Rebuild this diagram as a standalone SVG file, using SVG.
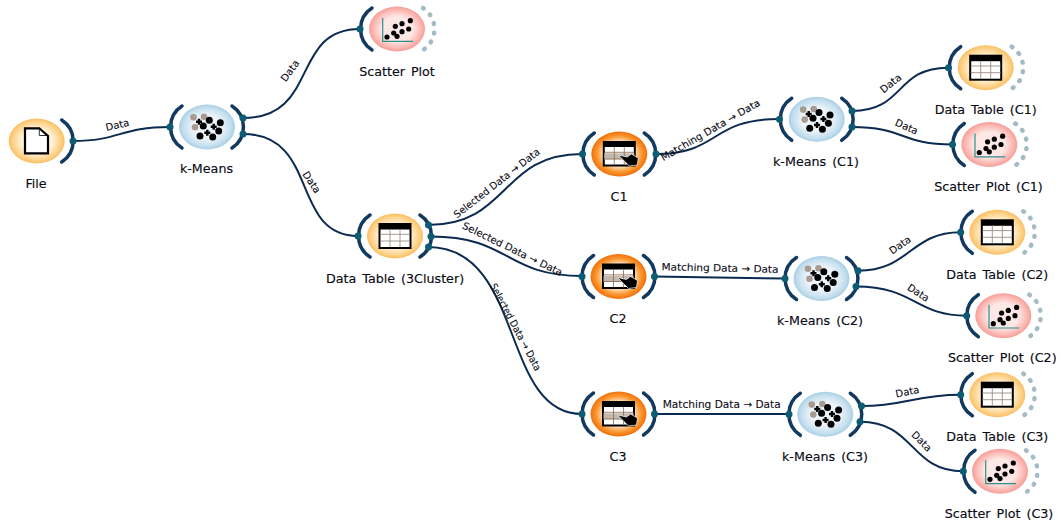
<svg xmlns="http://www.w3.org/2000/svg" xmlns:xlink="http://www.w3.org/1999/xlink" width="1061" height="524" viewBox="0 0 1061 524">
<style>
text{font-family:"DejaVu Sans",Verdana,sans-serif;fill:#0a0a14}
.lbl{font-size:12.700px;text-anchor:middle;word-spacing:2px;stroke:#0a0a14;stroke-width:0.150}
.el{font-size:10px;text-anchor:middle;stroke:#0a0a14;stroke-width:0.100}
.edge{fill:none;stroke:#0b2a4f;stroke-width:2}
.arc{fill:none;stroke:#12395f;stroke-width:3.500;stroke-linecap:round}
.dash{fill:none;stroke:#a3bbc5;stroke-width:4.500;stroke-linecap:round;stroke-dasharray:0.800 8.700}
.dot{fill:#0c5d73}
.ink{fill:#000}
</style>
<defs>
<radialGradient id="gO"><stop offset="0.55" stop-color="#fff2d6"/><stop offset="0.85" stop-color="#fdd28a"/><stop offset="1" stop-color="#fbbf62"/></radialGradient>
<radialGradient id="gR"><stop offset="0.55" stop-color="#fde8e6"/><stop offset="0.85" stop-color="#fbb8b2"/><stop offset="1" stop-color="#f79d98"/></radialGradient>
<radialGradient id="gB"><stop offset="0.5" stop-color="#eef5fa"/><stop offset="0.85" stop-color="#c4dfee"/><stop offset="1" stop-color="#a9cfe4"/></radialGradient>
<radialGradient id="gD"><stop offset="0.55" stop-color="#fde0c0"/><stop offset="0.8" stop-color="#f9972f"/><stop offset="1" stop-color="#f26f0c"/></radialGradient>
<path id="la" class="arc" d="M-25-21A25 25 0 0 0-25 21"/>
<path id="ra" class="arc" d="M25-21A25 25 0 0 1 25 21"/>
<path id="da" class="dash" d="M26-21A25 25 0 0 1 26 21"/>
<g id="icon-table">
<rect x="-15.500" y="-12" width="31" height="24" fill="#fff" stroke="#000" stroke-width="2"/>
<rect x="-15.500" y="-12" width="31" height="5.500" fill="#000"/>
<path d="M-5-7V11M5-7V11M-15-1.700H15M-15 5H15" fill="none" stroke="#8a8078" stroke-width="0.800"/>
</g>
<g id="icon-sel">
<rect x="-15.500" y="-12" width="31" height="23.500" fill="#fff" stroke="#000" stroke-width="2"/>
<rect x="-15.500" y="-12" width="31" height="5" fill="#000"/>
<rect x="-15" y="-0.700" width="30" height="6" fill="#c3b8ae"/>
<path d="M-5-7V11M5-7V11M-15-1.700H15M-15 5H15" fill="none" stroke="#8a6a50" stroke-width="0.800"/>
<path d="M-1 1L8 3L12 0L19 4L18 11L10 12L6 8Z" fill="#000" stroke="#fff" stroke-width="0.700"/>
</g>
<g id="icon-km" class="ink">
<circle cx="-13.500" cy="-9.700" r="3.300" fill="#a89c92"/><circle cx="-3" cy="-10.300" r="3.300" fill="#a89c92"/><circle cx="-12" cy="0.300" r="3.300" fill="#a89c92"/>
<circle cx="2.300" cy="-6.700" r="3.500"/><circle cx="13.300" cy="-4.300" r="3.500"/><circle cx="-3.700" cy="-1" r="3.500"/><circle cx="11.700" cy="4" r="3.500"/><circle cx="-7" cy="9" r="3.500"/><circle cx="5.700" cy="10" r="3.500"/>
<path d="M-11-5.300h6M-8-8.300v6M3.700-0.300h6M6.700-3.300v6M-2.700 5.700h6M0.300 2.700v6" stroke="#000" stroke-width="2.400" fill="none"/>
</g>
<g id="icon-sp">
<path d="M-14.300-11V12.300H16" fill="none" stroke="#2f8f8f" stroke-width="1.200"/>
<g class="ink"><circle cx="-10" cy="8" r="2.600"/><circle cx="-3.300" cy="4" r="2.600"/><circle cx="0" cy="7.300" r="2.600"/><circle cx="-1.700" cy="-2.700" r="2.600"/><circle cx="5" cy="2.700" r="2.600"/><circle cx="5" cy="-5.300" r="2.600"/><circle cx="11.700" cy="0" r="2.600"/><circle cx="13.300" cy="-8.300" r="2.600"/></g>
</g>
<g id="file"><path d="M-11.700-12.700H2.600L11.300-5V12.300H-11.700Z" fill="#fff" stroke="#000" stroke-width="2.200"/><path d="M2.600-12.700V-5.500H11.300" fill="none" stroke="#000" stroke-width="0.800"/></g>
</defs>

<g id="connectors">
<path class="edge" d="M73 141C120 141 120 127 170 127"/>
<path class="edge" d="M243 118C320 118 290 29 360 29"/>
<path class="edge" d="M243 134C320 134 290 236 358 236"/>
<path class="edge" d="M428 225C510 225 500 154 582 154"/>
<path class="edge" d="M431 236.500C510 236.500 505 276 582 276"/>
<path class="edge" d="M428 247C525 247 500 414 582 414"/>
<path class="edge" d="M656 154C720 154 710 119 779 119"/>
<path class="edge" d="M654 276.500L785 278.500"/>
<path class="edge" d="M654 414H789"/>
<path class="edge" d="M852 111C905 111 895 67.700 948 67.700"/>
<path class="edge" d="M852 127C905 127 900 144.500 952.500 144.500"/>
<path class="edge" d="M858 270.700C910 270.700 910 232.300 960.500 232.300"/>
<path class="edge" d="M856 286.500C915 286.500 915 315.700 966.500 315.700"/>
<path class="edge" d="M861.500 406C905 406 915 394.700 960.500 394.700"/>
<path class="edge" d="M860 421.700C915 421.700 910 471.300 963 471.300"/>
<g id="edge-labels">
<text class="el" dy="3.500" transform="translate(117.300 125) rotate(-13)">Data</text>
<text class="el" dy="3.500" transform="translate(290 70.700) rotate(-54)">Data</text>
<text class="el" dy="3.500" transform="translate(311.700 182.300) rotate(56)">Data</text>
<text class="el" dy="3.500" textLength="106" lengthAdjust="spacingAndGlyphs" transform="translate(496.700 183) rotate(-38)">Selected Data → Data</text>
<text class="el" dy="3.500" textLength="110" lengthAdjust="spacingAndGlyphs" transform="translate(512.500 249) rotate(26)">Selected Data → Data</text>
<text class="el" dy="3.500" textLength="97" lengthAdjust="spacingAndGlyphs" transform="translate(515.700 327) rotate(62)">Selected Data → Data</text>
<text class="el" dy="3.500" textLength="113" lengthAdjust="spacingAndGlyphs" transform="translate(710.300 130) rotate(-30)">Matching Data → Data</text>
<text class="el" dy="3.500" textLength="117" lengthAdjust="spacingAndGlyphs" transform="translate(720 268) rotate(1.300)">Matching Data → Data</text>
<text class="el" dy="3.500" textLength="118" lengthAdjust="spacingAndGlyphs" transform="translate(721.700 404.700)">Matching Data → Data</text>
<text class="el" dy="3.500" transform="translate(890.700 83.300) rotate(-38)">Data</text>
<text class="el" dy="3.500" transform="translate(906.700 126.700) rotate(24)">Data</text>
<text class="el" dy="3.500" transform="translate(900 245) rotate(-35)">Data</text>
<text class="el" dy="3.500" transform="translate(918.300 292.700) rotate(33)">Data</text>
<text class="el" dy="3.500" transform="translate(907.300 391.700) rotate(-12)">Data</text>
<text class="el" dy="3.500" transform="translate(921.700 441.300) rotate(45)">Data</text>
</g>
</g>

<g id="node-file"><ellipse cx="36.700" cy="141" rx="28" ry="22.500" fill="url(#gO)"/><use href="#file" x="36.700" y="141"/><use href="#ra" x="36.700" y="141"/><circle class="dot" cx="73" cy="141" r="3.500"/><text class="lbl" x="36" y="187.500">File</text></g>

<g id="node-kmeans"><ellipse cx="207" cy="127" rx="28" ry="22.500" fill="url(#gB)"/><use href="#icon-km" x="207" y="127"/><use href="#la" x="207" y="127"/><use href="#ra" x="207" y="127"/><circle class="dot" cx="170" cy="127" r="3.500"/><circle class="dot" cx="243" cy="118" r="3.500"/><circle class="dot" cx="243" cy="134" r="3.500"/><text class="lbl" x="206.500" y="173">k-Means</text></g>

<g id="node-scatter"><ellipse cx="397" cy="29" rx="28" ry="22.500" fill="url(#gR)"/><use href="#icon-sp" x="397" y="29"/><use href="#la" x="397" y="29"/><use href="#da" x="397" y="29"/><circle class="dot" cx="360" cy="29" r="3.500"/><text class="lbl" x="397" y="75.500">Scatter Plot</text></g>

<g id="node-dt"><ellipse cx="395" cy="236" rx="28" ry="22.500" fill="url(#gO)"/><use href="#icon-table" x="395" y="236"/><use href="#la" x="395" y="236"/><use href="#ra" x="395" y="236"/><circle class="dot" cx="358" cy="236" r="3.500"/><circle class="dot" cx="428.500" cy="225" r="3.500"/><circle class="dot" cx="431" cy="236.500" r="3.500"/><circle class="dot" cx="428.500" cy="247" r="3.500"/><text class="lbl" x="395" y="282.500">Data Table (3Cluster)</text></g>

<g id="node-c1"><ellipse cx="619.300" cy="154" rx="28" ry="22.500" fill="url(#gD)"/><use href="#icon-sel" x="619.300" y="154"/><use href="#la" x="619.300" y="154"/><use href="#ra" x="619.300" y="154"/><circle class="dot" cx="582.500" cy="154" r="3.500"/><circle class="dot" cx="656" cy="154" r="3.500"/><text class="lbl" x="619" y="200.500">C1</text></g>
<g id="node-c2"><ellipse cx="618.500" cy="276.500" rx="28" ry="22.500" fill="url(#gD)"/><use href="#icon-sel" x="618.500" y="276.500"/><use href="#la" x="618.500" y="276.500"/><use href="#ra" x="618.500" y="276.500"/><circle class="dot" cx="582" cy="276.500" r="3.500"/><circle class="dot" cx="654.500" cy="276.500" r="3.500"/><text class="lbl" x="618" y="322.500">C2</text></g>
<g id="node-c3"><ellipse cx="618.500" cy="414" rx="28" ry="22.500" fill="url(#gD)"/><use href="#icon-sel" x="618.500" y="414"/><use href="#la" x="618.500" y="414"/><use href="#ra" x="618.500" y="414"/><circle class="dot" cx="582" cy="414" r="3.500"/><circle class="dot" cx="654.500" cy="414" r="3.500"/><text class="lbl" x="618" y="460.500">C3</text></g>

<g id="node-km1"><ellipse cx="816.700" cy="119.300" rx="28" ry="22.500" fill="url(#gB)"/><use href="#icon-km" x="816.700" y="119.300"/><use href="#la" x="816.700" y="119.300"/><use href="#ra" x="816.700" y="119.300"/><circle class="dot" cx="779.500" cy="119.300" r="3.500"/><circle class="dot" cx="852" cy="111" r="3.500"/><circle class="dot" cx="852" cy="127" r="3.500"/><text class="lbl" x="816" y="165.500">k-Means (C1)</text></g>
<g id="node-km2"><ellipse cx="821.500" cy="278.500" rx="28" ry="22.500" fill="url(#gB)"/><use href="#icon-km" x="821.500" y="278.500"/><use href="#la" x="821.500" y="278.500"/><use href="#ra" x="821.500" y="278.500"/><circle class="dot" cx="785" cy="278.500" r="3.500"/><circle class="dot" cx="858" cy="270.700" r="3.500"/><circle class="dot" cx="856" cy="286.500" r="3.500"/><text class="lbl" x="820" y="325">k-Means (C2)</text></g>
<g id="node-km3"><ellipse cx="825.300" cy="414.300" rx="28" ry="22.500" fill="url(#gB)"/><use href="#icon-km" x="825.300" y="414.300"/><use href="#la" x="825.300" y="414.300"/><use href="#ra" x="825.300" y="414.300"/><circle class="dot" cx="789" cy="414.300" r="3.500"/><circle class="dot" cx="861.500" cy="406" r="3.500"/><circle class="dot" cx="860" cy="421.700" r="3.500"/><text class="lbl" x="825" y="460.500">k-Means (C3)</text></g>

<g id="node-dt1"><ellipse cx="985.700" cy="67.700" rx="28" ry="22.500" fill="url(#gO)"/><use href="#icon-table" x="985.700" y="67.700"/><use href="#la" x="985.700" y="67.700"/><use href="#da" x="985.700" y="67.700"/><circle class="dot" cx="948.500" cy="67.700" r="3.500"/><text class="lbl" x="985.700" y="114">Data Table (C1)</text></g>
<g id="node-sp1"><ellipse cx="989.300" cy="144.500" rx="28" ry="22.500" fill="url(#gR)"/><use href="#icon-sp" x="989.300" y="144.500"/><use href="#la" x="989.300" y="144.500"/><use href="#da" x="989.300" y="144.500"/><circle class="dot" cx="952.500" cy="144.500" r="3.500"/><text class="lbl" x="988.500" y="191">Scatter Plot (C1)</text></g>
<g id="node-dt2"><ellipse cx="997.300" cy="232.300" rx="28" ry="22.500" fill="url(#gO)"/><use href="#icon-table" x="997.300" y="232.300"/><use href="#la" x="997.300" y="232.300"/><use href="#da" x="997.300" y="232.300"/><circle class="dot" cx="960.700" cy="232.300" r="3.500"/><text class="lbl" x="997.300" y="278.500">Data Table (C2)</text></g>
<g id="node-sp2"><ellipse cx="1003.300" cy="315.700" rx="28" ry="22.500" fill="url(#gR)"/><use href="#icon-sp" x="1003.300" y="315.700"/><use href="#la" x="1003.300" y="315.700"/><use href="#da" x="1003.300" y="315.700"/><circle class="dot" cx="966.700" cy="315.700" r="3.500"/><text class="lbl" x="1002.300" y="362">Scatter Plot (C2)</text></g>
<g id="node-dt3"><ellipse cx="997.300" cy="394.700" rx="28" ry="22.500" fill="url(#gO)"/><use href="#icon-table" x="997.300" y="394.700"/><use href="#la" x="997.300" y="394.700"/><use href="#da" x="997.300" y="394.700"/><circle class="dot" cx="960.700" cy="394.700" r="3.500"/><text class="lbl" x="997.300" y="440.800">Data Table (C3)</text></g>
<g id="node-sp3"><ellipse cx="1000" cy="471.300" rx="28" ry="22.500" fill="url(#gR)"/><use href="#icon-sp" x="1000" y="471.300"/><use href="#la" x="1000" y="471.300"/><use href="#da" x="1000" y="471.300"/><circle class="dot" cx="963.300" cy="471.300" r="3.500"/><text class="lbl" x="999" y="517.500">Scatter Plot (C3)</text></g>
</svg>
